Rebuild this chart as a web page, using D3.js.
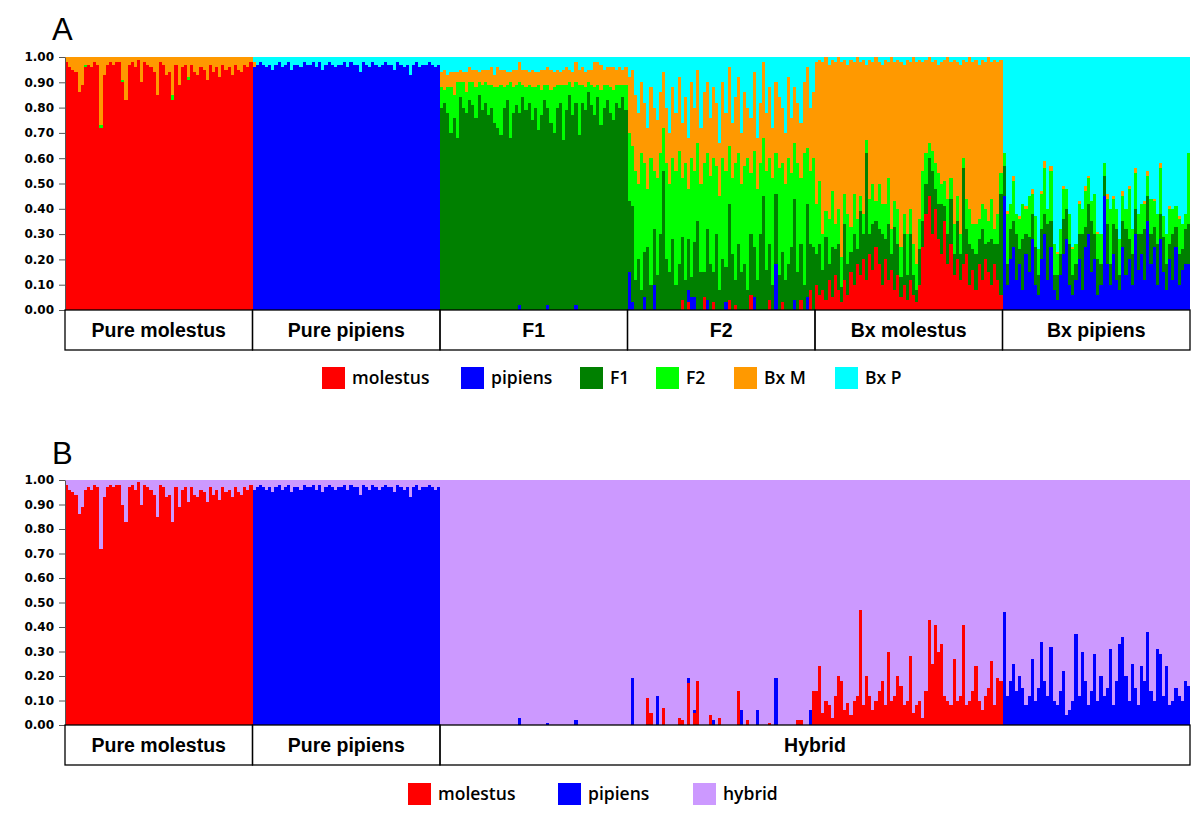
<!DOCTYPE html>
<html><head><meta charset="utf-8">
<script src="https://cdn.jsdelivr.net/npm/d3@7"></script>
<style>body{margin:0;background:#fff}svg{display:block}</style>
</head><body><svg id="chart" width="1200" height="831"></svg>
<script>
// ---------- DATA (proportions in hundredths; the top cluster of each bar takes the remainder) ----------
const keysA = ["mol","pip","f1","f2","bxm","bxp"];
const colorsA = ["#FF0000","#0000FF","#008000","#00FF00","#FF9900","#00FFFF"];
const legendA = ["molestus","pipiens","F1","F2","Bx M","Bx P"];
const groupsA = ["Pure molestus","Pure pipiens","F1","F2","Bx molestus","Bx pipiens"];

const keysB = ["mol","pip","hyb"];
const colorsB = ["#FF0000","#0000FF","#CC99FF"];
const legendB = ["molestus","pipiens","hybrid"];
const groupsB = ["Pure molestus","Pure pipiens","Hybrid"];

const yTicks = [0,0.1,0.2,0.3,0.4,0.5,0.6,0.7,0.8,0.9,1.0];

// Pure molestus
const pmMol = [98,96,95,94,86,89,96,97,96,98,97,72,93,97,98,97,98,98,90,83,97,98,96,99,90,98,97,96,94,85,98,97,93,94,83,97,89,96,97,91,97,94,93,96,95,91,97,94,96,92,97,95,96,93,97,95,94,97,96,98];
const pmF2  = [0,0,0,0,0,0,1,0,0,0,0,1,0,0,0,0,0,0,1,0,0,0,0,0,0,0,0,0,0,0,0,0,0,0,2,0,0,0,0,1,0,0,0,0,0,0,0,0,0,0,0,0,0,0,0,0,0,0,0,0];
// Pure pipiens
const ppPip = [96,97,98,97,96,97,95,97,98,96,97,98,95,97,97,96,98,97,97,98,96,98,95,97,98,97,96,97,97,98,96,98,97,97,94,98,97,96,98,97,96,97,98,97,97,95,98,97,96,97,93,97,98,96,97,97,98,97,96,97];
const ppBxm = [2,0,0,0,0,0,0,0,0,0,0,0,0,0,0,0,0,0,0,0,0,0,0,0,0,0,0,0,0,0,0,0,0,0,0,0,0,0,0,0,0,0,0,0,0,0,0,0,0,0,0,0,0,0,0,0,0,0,0,0];
// F1
const f1Pip = [0,0,0,0,0,0,0,0,0,0,0,0,0,0,0,0,0,0,0,0,0,0,0,0,0,2,0,0,0,0,0,0,0,0,2,0,0,0,0,0,0,0,0,2,0,0,0,0,0,0,0,0,0,0,0,0,0,0,0,0];
const f1F1  = [80,82,78,70,76,68,84,80,78,83,81,76,85,79,82,77,80,74,72,69,80,83,68,78,81,76,84,79,82,75,80,71,77,83,78,74,70,80,82,67,79,85,77,80,69,82,79,86,81,77,84,73,80,83,78,75,82,80,84,79];
const f1F2  = [8,5,10,18,9,22,6,10,8,7,9,12,5,10,8,12,9,14,16,20,8,6,22,10,8,12,5,9,7,13,8,18,10,6,9,13,18,9,7,22,10,5,11,8,20,7,9,4,8,11,5,14,9,6,10,12,7,9,5,10];
const f1Bxm = [6,8,5,6,9,4,5,4,8,6,5,7,4,6,5,6,7,5,8,6,7,5,4,7,6,8,6,7,5,7,6,5,8,6,7,8,6,6,5,6,7,5,6,8,6,7,6,5,6,10,9,10,6,7,8,9,6,7,6,7];
// F2
const f2Mol = [0,0,0,0,0,0,0,0,0,0,0,0,0,0,0,0,0,4,0,3,0,0,0,0,5,0,0,3,0,0,0,0,4,0,2,0,0,0,0,6,0,0,0,0,0,4,0,0,0,3,0,0,0,0,0,4,0,0,8,0];
const f2Pip = [15,3,0,0,0,5,0,0,10,0,0,0,0,0,0,0,0,0,0,5,5,5,0,0,0,4,0,0,0,0,0,3,0,0,0,0,0,0,0,0,5,0,0,0,0,0,0,18,0,0,0,0,0,4,0,0,0,5,0,0];
const f2F1  = [28,38,12,20,8,18,25,10,22,14,30,55,20,15,28,10,18,25,12,20,8,22,35,15,10,28,18,12,30,8,20,14,38,22,10,26,15,18,8,24,20,12,30,45,16,22,10,28,14,20,12,18,25,40,15,22,10,37,18,25];
const f2F2  = [27,24,43,30,54,35,23,50,23,38,32,17,38,35,32,45,45,23,46,20,47,28,31,35,43,30,35,45,27,37,40,38,23,30,46,36,35,39,52,24,38,36,28,23,39,34,42,16,42,35,38,42,29,22,43,26,52,22,29,35];
const f2Bxm = [22,30,30,28,28,24,24,28,25,23,24,22,22,20,28,23,29,22,26,20,30,25,29,22,28,28,23,28,25,21,30,23,31,22,26,30,20,29,20,22,31,20,24,30,23,28,20,28,28,22,20,32,22,22,24,22,28,32,25,26];
// Bx molestus
const bmMol = [10,6,8,4,12,5,14,8,3,12,6,15,10,18,14,20,12,22,16,25,18,10,20,12,16,8,14,5,10,4,12,6,3,10,25,38,45,30,40,28,22,35,18,26,14,20,12,18,22,10,16,8,18,12,20,15,10,18,12,6];
const bmF1  = [12,20,8,25,6,20,10,18,6,22,12,8,20,6,25,10,50,8,18,10,14,20,8,22,6,25,12,8,20,10,18,8,5,14,10,12,15,25,8,14,20,6,12,18,8,15,10,38,10,16,8,14,10,20,6,12,18,8,14,40];
const bmF2  = [20,25,14,10,18,22,10,14,12,12,20,10,16,12,6,8,5,14,16,8,18,12,14,18,10,10,14,12,8,16,10,12,10,12,20,12,6,8,10,12,8,10,14,8,12,10,8,4,12,14,10,12,8,10,14,8,16,6,12,8];
const bmBxp = [2,1,2,0,3,1,2,0,2,1,3,1,2,0,2,1,3,1,2,0,2,3,1,2,0,2,1,2,3,1,2,0,2,1,2,1,0,2,1,3,2,1,0,2,1,2,3,1,2,0,2,1,3,1,2,0,2,1,2,1];
// Bx pipiens
const bpPip = [45,10,20,25,12,18,8,22,15,28,10,6,20,30,12,25,8,4,14,22,28,10,6,12,20,8,25,30,15,20,6,10,45,18,10,22,12,8,25,14,20,10,30,16,22,12,35,18,25,10,28,15,8,20,12,25,10,16,18,18];
const bpF1  = [12,8,12,10,18,6,20,8,14,10,15,8,12,8,22,10,6,10,8,14,12,16,8,6,10,22,8,12,20,10,14,8,8,16,8,12,20,6,10,18,8,12,10,14,8,20,10,12,8,16,10,14,10,6,18,8,12,8,14,16];
const bpF2  = [5,20,10,16,8,12,14,10,16,8,12,10,14,18,6,20,12,8,10,12,8,12,10,8,12,10,14,10,8,16,10,12,5,10,22,10,8,14,10,8,20,10,14,8,12,10,8,14,10,12,18,8,12,14,10,8,14,10,6,28];
const bpBxm = [0,1,0,2,0,1,0,1,0,2,0,0,1,3,0,2,0,1,0,1,0,0,1,0,1,0,2,1,0,0,1,0,0,2,0,1,0,0,2,0,1,0,2,0,0,1,2,0,1,0,2,0,0,1,0,0,1,0,0,0];

// Panel B (K = 3): hybrid individuals in the same order (F1, F2, Bx molestus, Bx pipiens)
const hF1Pip = [0,0,0,0,0,0,0,0,0,0,0,0,0,0,0,0,0,0,0,0,0,0,0,0,0,3,0,0,0,0,0,0,0,0,1,0,0,0,0,0,0,0,0,2,0,0,0,0,0,0,0,0,0,0,0,0,0,0,0,0];
const hF2Mol = [0,0,0,0,0,0,11,5,0,0,0,7,0,0,0,0,3,2,0,17,0,5,18,0,0,0,4,0,0,3,0,0,0,0,0,14,0,0,2,0,0,0,0,0,0,1,0,0,0,0,0,0,0,0,2,2,0,0,0,14];
const hF2Pip = [0,19,0,0,0,0,0,0,0,12,0,0,0,0,0,0,0,0,0,2,0,1,0,0,0,0,0,2,0,0,0,0,0,0,0,0,6,0,0,0,0,6,0,0,0,0,0,19,0,0,0,0,0,0,0,0,0,0,6,0];
const hBmMol = [14,24,5,10,8,3,12,20,18,6,9,4,10,12,47,8,20,12,6,10,14,18,8,30,10,12,20,16,8,10,28,5,8,10,3,14,43,25,41,30,33,12,10,8,27,10,12,41,8,10,14,24,10,6,12,15,26,8,19,18];
const hBpPip = [46,12,18,25,14,20,15,8,12,27,10,15,34,18,12,32,10,8,14,22,4,6,10,37,12,30,18,8,14,29,10,20,12,15,31,8,18,33,36,20,10,25,15,8,24,18,38,14,10,31,29,12,24,8,10,15,12,10,18,16];

// ---------- BUILD ROWS ----------
function makeRows(prefix, group, comps, keys, restKey) {
  const n = Object.values(comps)[0].length;
  const rows = [];
  for (let i = 0; i < n; i++) {
    const r = {id: prefix + i, group: group};
    let s = 0;
    keys.forEach(k => {
      if (k === restKey) return;
      const v = comps[k] ? comps[k][i] / 100 : 0;
      r[k] = v; s += v;
    });
    r[restKey] = Math.max(0, 1 - s);
    rows.push(r);
  }
  return rows;
}

const rowsA = [].concat(
  makeRows("pm", groupsA[0], {mol: pmMol, f2: pmF2}, keysA, "bxm"),
  makeRows("pp", groupsA[1], {pip: ppPip, bxm: ppBxm}, keysA, "bxp"),
  makeRows("f1_", groupsA[2], {pip: f1Pip, f1: f1F1, f2: f1F2, bxm: f1Bxm}, keysA, "bxp"),
  makeRows("f2_", groupsA[3], {mol: f2Mol, pip: f2Pip, f1: f2F1, f2: f2F2, bxm: f2Bxm}, keysA, "bxp"),
  makeRows("bm", groupsA[4], {mol: bmMol, f1: bmF1, f2: bmF2, bxp: bmBxp}, keysA, "bxm"),
  makeRows("bp", groupsA[5], {pip: bpPip, f1: bpF1, f2: bpF2, bxm: bpBxm}, keysA, "bxp")
);
const rowsB = [].concat(
  makeRows("pm", groupsB[0], {mol: pmMol}, keysB, "hyb"),
  makeRows("pp", groupsB[1], {pip: ppPip}, keysB, "hyb"),
  makeRows("f1_", groupsB[2], {pip: hF1Pip}, keysB, "hyb"),
  makeRows("f2_", groupsB[2], {mol: hF2Mol, pip: hF2Pip}, keysB, "hyb"),
  makeRows("bm", groupsB[2], {mol: hBmMol}, keysB, "hyb"),
  makeRows("bp", groupsB[2], {pip: hBpPip}, keysB, "hyb")
);

// ---------- DRAW ----------
const svg = d3.select("#chart");
const left = 65, right = 1190;

function panel(cfg) {
  const {rows, keys, colors, groups, yTop, yBottom, boxBottom, letter, letterY,
         legendLabels, legendXs, legendY} = cfg;
  const g = svg.append("g");
  const x = d3.scaleBand().domain(rows.map(r => r.id)).range([left, right]).padding(0);
  const y = d3.scaleLinear().domain([0, 1]).range([yBottom, yTop]);
  const color = d3.scaleOrdinal().domain(keys).range(colors);
  const series = d3.stack().keys(keys)(rows);

  g.append("g").attr("shape-rendering", "crispEdges")
    .selectAll("g").data(series).join("g").attr("fill", d => color(d.key))
    .selectAll("rect").data(d => d).join("rect")
      .attr("x", d => x(d.data.id))
      .attr("width", x.bandwidth() + 0.01)
      .attr("y", d => y(d[1]))
      .attr("height", d => Math.max(0, y(d[0]) - y(d[1])));

  // y axis
  const ax = g.append("g").attr("transform", `translate(${left},0)`)
    .call(d3.axisLeft(y).tickValues(yTicks).tickFormat(d3.format(".2f")).tickSize(6).tickPadding(5).tickSizeOuter(0));
  ax.select(".domain").attr("stroke", "#555");
  ax.selectAll(".tick line").attr("stroke", "#555");
  ax.selectAll(".tick text").attr("fill", "#000")
    .style("font-family", "'DejaVu Sans', Verdana, sans-serif")
    .style("font-weight", "bold").style("font-size", "12px");

  // group label boxes
  groups.forEach(name => {
    const ids = rows.filter(r => r.group === name).map(r => r.id);
    const x0 = x(ids[0]), x1 = x(ids[ids.length - 1]) + x.bandwidth();
    g.append("rect").attr("x", x0).attr("y", yBottom).attr("width", x1 - x0)
      .attr("height", boxBottom - yBottom).attr("fill", "none")
      .attr("stroke", "#000").attr("stroke-width", 1.3);
    g.append("text").attr("x", (x0 + x1) / 2).attr("y", yBottom + (boxBottom - yBottom) / 2 + 7)
      .attr("text-anchor", "middle")
      .style("font-family", "'Liberation Sans', Arial, sans-serif")
      .style("font-weight", "bold").style("font-size", "19.5px").text(name);
  });

  // panel letter
  svg.append("text").attr("x", 52).attr("y", letterY)
    .style("font-family", "'Liberation Sans', Arial, sans-serif")
    .style("font-size", "31px").text(letter);

  // legend
  const lg = svg.append("g");
  legendLabels.forEach((lab, i) => {
    lg.append("rect").attr("x", legendXs[i]).attr("y", legendY - 11).attr("width", 23).attr("height", 22)
      .attr("fill", colors[i]);
    lg.append("text").attr("x", legendXs[i] + 30).attr("y", legendY + 6)
      .style("font-family", "'Open Sans', 'Noto Sans', sans-serif")
      .style("font-weight", "600")
      .style("font-size", "17.5px").text(lab);
  });
}

panel({rows: rowsA, keys: keysA, colors: colorsA, groups: groupsA,
  yTop: 57, yBottom: 310, boxBottom: 350, letter: "A", letterY: 40,
  legendLabels: legendA, legendXs: [322, 461, 580, 656, 734, 835], legendY: 378});

panel({rows: rowsB, keys: keysB, colors: colorsB, groups: groupsB,
  yTop: 480, yBottom: 725, boxBottom: 765, letter: "B", letterY: 464,
  legendLabels: legendB, legendXs: [408, 558, 693], legendY: 794});
</script>
</body></html>
